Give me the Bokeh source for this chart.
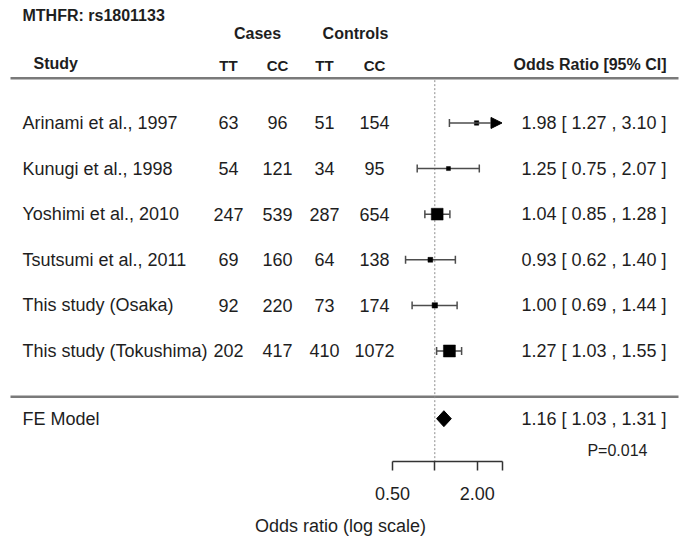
import numpy as np
from bokeh.plotting import figure
from bokeh.models import Range1d, FixedTicker, PrintfTickFormatter, ColumnDataSource, Arrow, NormalHead
from bokeh.core.properties import value
from bokeh.embed import file_html
from bokeh.resources import INLINE

# ---------------- data ----------------
title = "MTHFR: rs1801133"
studies = ["Arinami et al., 1997", "Kunugi et al., 1998", "Yoshimi et al., 2010",
           "Tsutsumi et al., 2011", "This study (Osaka)", "This study (Tokushima)"]
cases_tt = [63, 54, 247, 69, 92, 202]
cases_cc = [96, 121, 539, 160, 220, 417]
ctrl_tt = [51, 34, 287, 64, 73, 410]
ctrl_cc = [154, 95, 654, 138, 174, 1072]
or_est = [1.98, 1.25, 1.04, 0.93, 1.00, 1.27]
ci_lo = [1.27, 0.75, 0.85, 0.62, 0.69, 1.03]
ci_hi = [3.10, 2.07, 1.28, 1.40, 1.44, 1.55]
fe_label = "FE Model"
fe_est, fe_lo, fe_hi = 1.16, 1.03, 1.31
p_value_text = "P=0.014"
axis_limits = [0.5, 3.0]
tick_major = [0.5, 2.0]
tick_minor = [1.0, 3.0]
axis_title = "Odds ratio (log scale)"

# ---------------- layout helpers ----------------
W, H = 680, 538
X1 = 434.3          # screen x of OR = 1
PX_PER_LOG2 = 42.4  # screen px per doubling


def sx(px):
    """screen x pixel -> odds-ratio units on the log axis"""
    return 2 ** ((px - X1) / PX_PER_LOG2)


FONT = value("Liberation Sans")
TXT = "#1e1e1e"
row_y = 123 + 45.8 * np.arange(len(studies))
fe_y = 420

p = figure(width=W, height=H, x_axis_type="log", y_axis_location=None,
           x_range=Range1d(sx(0), sx(W)), y_range=Range1d(463, 0),
           output_backend="svg", toolbar_location=None, min_border=0,
           outline_line_color=None, background_fill_color="white",
           border_fill_color="white")
p.grid.visible = False

# axis
ax = p.xaxis[0]
ax.ticker = FixedTicker(ticks=tick_major, minor_ticks=tick_minor)
ax.formatter = PrintfTickFormatter(format="%.2f")
ax.bounds = tuple(axis_limits)
ax.axis_line_color = "#333333"
ax.axis_line_width = 1.5
ax.major_tick_line_color = "#333333"
ax.major_tick_line_width = 1.5
ax.minor_tick_line_color = "#333333"
ax.minor_tick_line_width = 1.5
ax.major_tick_in = 0
ax.major_tick_out = 9
ax.minor_tick_in = 0
ax.minor_tick_out = 9
ax.major_label_standoff = 16
ax.major_label_text_font = "Liberation Sans"
ax.major_label_text_font_size = "18px"
ax.major_label_text_color = TXT
ax.axis_label = axis_title
ax.axis_label_standoff = 13
ax.axis_label_text_font = "Liberation Sans"
ax.axis_label_text_font_size = "18px"
ax.axis_label_text_font_style = "normal"
ax.axis_label_text_color = TXT

# rules
p.segment(x0=[sx(10), sx(10)], x1=[sx(678), sx(678)], y0=[78, 398], y1=[78, 398],
          line_color="#7a7a7a", line_width=2.5)
# reference line at OR = 1
p.segment(x0=[1.0], x1=[1.0], y0=[80], y1=[463], line_color="#8c8c8c",
          line_width=1, line_dash="2 2")

# header texts
p.text(x=[sx(22)], y=[15], text=[title], text_font=FONT, text_font_size="16px",
       text_font_style="bold", text_color=TXT, text_baseline="middle", text_align="left")
p.text(x=[sx(257), sx(355)], y=[33, 33], text=["Cases", "Controls"], text_font=FONT,
       text_font_size="16px", text_font_style="bold", text_color=TXT,
       text_baseline="middle", text_align="center")
col_px = [228, 277, 324, 374]
p.text(x=[sx(c) for c in col_px], y=[65] * 4, text=["TT", "CC", "TT", "CC"], text_font=FONT,
       text_font_size="15px", text_font_style="bold", text_color=TXT,
       text_baseline="middle", text_align="center")
p.text(x=[sx(33)], y=[63], text=["Study"], text_font=FONT, text_font_size="16px",
       text_font_style="bold", text_color=TXT, text_baseline="middle", text_align="left")
p.text(x=[sx(666)], y=[64], text=["Odds Ratio [95% CI]"], text_font=FONT,
       text_font_size="16px", text_font_style="bold", text_color=TXT,
       text_baseline="middle", text_align="right")

# study rows
p.text(x=[sx(22)] * len(studies), y=row_y, text=studies, text_font=FONT,
       text_font_size="18px", text_color=TXT, text_baseline="middle", text_align="left")
for cx, col in zip(col_px, [cases_tt, cases_cc, ctrl_tt, ctrl_cc]):
    p.text(x=[sx(cx)] * len(col), y=row_y, text=[str(v) for v in col], text_font=FONT,
           text_font_size="18px", text_color=TXT, text_baseline="middle", text_align="center")
ci_txt = [f"{e:.2f} [ {l:.2f} , {h:.2f} ]" for e, l, h in zip(or_est, ci_lo, ci_hi)]
p.text(x=[sx(666)] * len(studies), y=row_y, text=ci_txt, text_font=FONT,
       text_font_size="18px", text_color=TXT, text_baseline="middle", text_align="right")

# CIs
lo = np.array(ci_lo)
hi = np.array(ci_hi)
hi_draw = np.minimum(hi, axis_limits[1])
clipped = hi > axis_limits[1]
CI_COL = "#4d4d4d"
p.segment(x0=lo[~clipped], x1=hi_draw[~clipped], y0=row_y[~clipped], y1=row_y[~clipped],
          line_color=CI_COL, line_width=1.5)
# caps
p.segment(x0=lo, x1=lo, y0=row_y - 4, y1=row_y + 4, line_color=CI_COL, line_width=1.5)
p.segment(x0=hi[~clipped], x1=hi[~clipped], y0=row_y[~clipped] - 4, y1=row_y[~clipped] + 4,
          line_color=CI_COL, line_width=1.5)
# arrows for clipped intervals
arr_src = ColumnDataSource(dict(x0=lo[clipped], x1=hi_draw[clipped], y=row_y[clipped]))
p.add_layout(Arrow(end=NormalHead(size=11, fill_color="black", line_color="black"),
                   x_start="x0", y_start="y", x_end="x1", y_end="y", source=arr_src,
                   line_color=CI_COL, line_width=1.5))

# squares sized by inverse-variance weight
a, b, c, d = (np.array(v, dtype=float) for v in (cases_tt, cases_cc, ctrl_tt, ctrl_cc))
w = 1.0 / (1 / a + 1 / b + 1 / c + 1 / d)
psize = 0.5 + (w - w.min()) / (w.max() - w.min())
p.scatter(x=or_est, y=row_y, marker="square", size=8 * psize, fill_color="black",
          line_color="black", line_width=0.5)

# FE model
p.text(x=[sx(22)], y=[fe_y], text=[fe_label], text_font=FONT, text_font_size="18px",
       text_color=TXT, text_baseline="middle", text_align="left")
p.patch(x=[fe_lo, fe_est, fe_hi, fe_est], y=[fe_y, fe_y - 8, fe_y, fe_y + 8],
        fill_color="black", line_color="black", line_width=1)
p.text(x=[sx(666)], y=[fe_y], text=[f"{fe_est:.2f} [ {fe_lo:.2f} , {fe_hi:.2f} ]"],
       text_font=FONT, text_font_size="18px", text_color=TXT, text_baseline="middle",
       text_align="right")
p.text(x=[sx(647)], y=[452], text=[p_value_text], text_font=FONT, text_font_size="16px",
       text_color=TXT, text_baseline="middle", text_align="right")

open("out.html", "w").write(file_html(p, INLINE))
